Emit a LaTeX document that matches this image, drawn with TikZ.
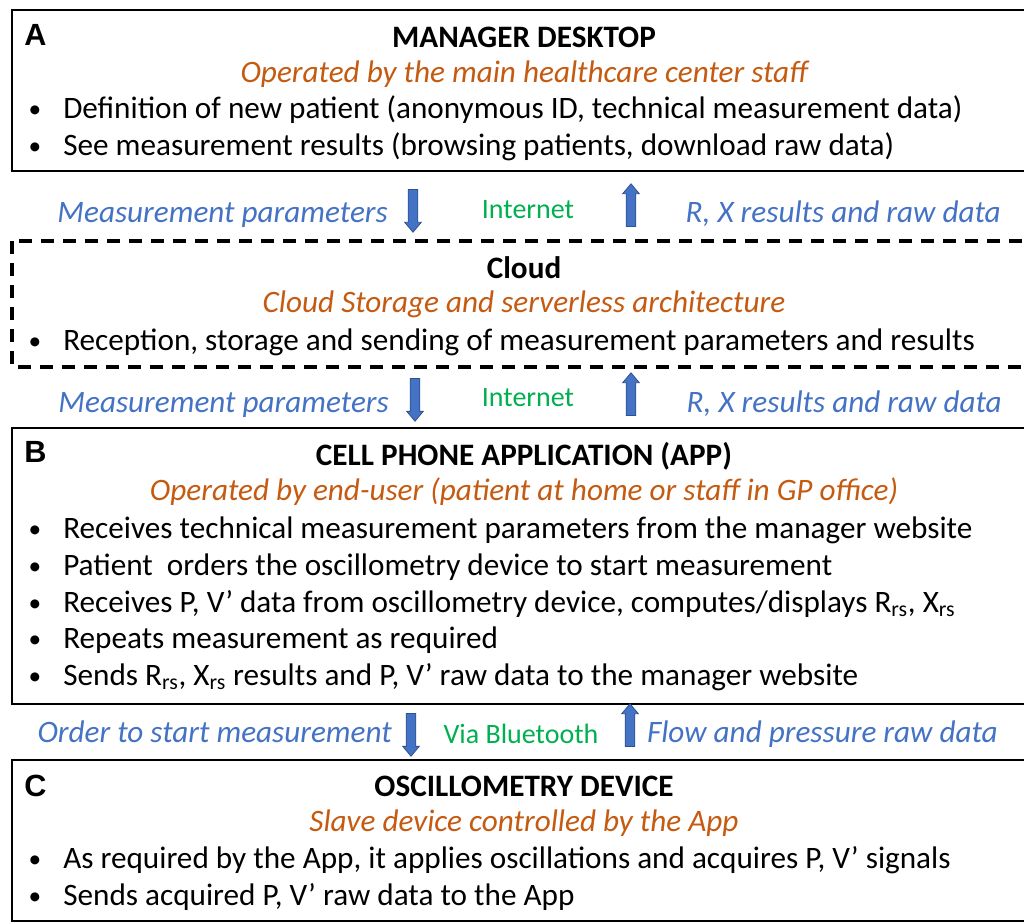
\documentclass[tikz,border=0pt]{standalone}
\usepackage{fontspec}
\setmainfont{Carlito}
\newfontfamily\letterfont{Liberation Sans}
\usetikzlibrary{shapes.arrows}
\definecolor{txblue}{RGB}{68,114,196}
\definecolor{txorange}{RGB}{197,90,17}
\definecolor{txgreen}{RGB}{0,176,80}
\definecolor{arline}{RGB}{47,82,143}
\tikzset{
  panel/.style={draw=black, line width=2.2pt},
  cloudpanel/.style={draw=black, line width=2.5pt, dash pattern=on 9.5pt off 7pt},
  body/.style={font=\fontsize{23.4}{28}\selectfont, inner sep=0pt, anchor=base},
  headtext/.style={body, font=\fontsize{23.4}{28}\selectfont\bfseries},
  subtext/.style={body, font=\fontsize{23.4}{28}\selectfont\itshape, text=txorange},
  linktext/.style={body, font=\fontsize{23.4}{28}\selectfont\itshape, text=txblue, anchor=base east},
  nettext/.style={body, font=\fontsize{21}{25}\selectfont, text=txgreen},
  letter/.style={font=\fontsize{23}{27}\selectfont\letterfont\bfseries, inner sep=0pt, anchor=base west},
  item/.style={body, anchor=base west},
  dot/.style={body, font=\fontsize{19}{23}\selectfont},
  blockarrow/.style={single arrow, draw=arline, fill=txblue, line width=0.6pt, minimum height=32pt,
    inner xsep=0pt, inner ysep=3.3pt, single arrow head extend=2.6pt, single arrow tip angle=80},
  downarrow/.style={blockarrow, rotate=-90},
  uparrow/.style={blockarrow, rotate=90}
}
\begin{document}
\begin{tikzpicture}[x=0.75pt, y=-0.75pt]
\clip (0,0) rectangle (1024,922);
\fill[white] (0,0) rectangle (1024,922);

% Manager desktop
\draw[panel] (12,10) rectangle (1040,171);
\node[letter] (lA) at (24,45) {A};
\node[headtext] (tA) at (524,47) {MANAGER DESKTOP};
\node[subtext] (sA) at (524,82) {Operated by the main healthcare center staff};
\node[dot] at (35,117) {•};
\node[item] (a1) at (63,118) {Definition of new patient (anonymous ID, technical measurement data)};
\node[dot] at (35,154) {•};
\node[item] (a2) at (63,155) {See measurement results (browsing patients, download raw data)};

% Desktop <-> cloud
\node[linktext] (l1) at (388,222) {Measurement parameters};
\node[downarrow] (d1) at (413,208) {};
\node[nettext] (n1) at (528,218) {Internet};
\node[uparrow] (u1) at (631,208) {};
\node[linktext] (r1) at (1001,222) {R, X results and raw data};

% Cloud
\draw[cloudpanel] (12,241) rectangle (1040,367);
\node[headtext] (tC) at (524,278) {Cloud};
\node[subtext] (sC) at (524,312) {Cloud Storage and serverless architecture};
\node[dot] at (35,349) {•};
\node[item] (c1) at (63,350) {Reception, storage and sending of measurement parameters and results};

% Cloud <-> app
\node[linktext] (l2) at (389,412) {Measurement parameters};
\node[downarrow] (d2) at (415,397) {};
\node[nettext] (n2) at (528,406) {Internet};
\node[uparrow] (u2) at (631,397) {};
\node[linktext] (r2) at (1002,412) {R, X results and raw data};

% Cell phone application
\draw[panel] (12,428) rectangle (1040,704);
\node[letter] (lB) at (24,462) {B};
\node[headtext] (tB) at (524,465) {CELL PHONE APPLICATION (APP)};
\node[subtext] (sB) at (524,500) {Operated by end-user (patient at home or staff in GP office)};
\node[dot] at (35,537) {•};
\node[item] (b1) at (63,538) {Receives technical measurement parameters from the manager website};
\node[dot] at (35,574) {•};
\node[item] (b2) at (63,575) {Patient\ \ orders the oscillometry device to start measurement};
\node[dot] at (35,611) {•};
\node[item] (b3) at (63,612) {Receives P, V’ data from oscillometry device, computes/displays R\textsubscript{rs}, X\textsubscript{rs}};
\node[dot] at (35,647) {•};
\node[item] (b4) at (63,648) {Repeats measurement as required};
\node[dot] at (35,684) {•};
\node[item] (b5) at (63,685) {Sends R\textsubscript{rs}, X\textsubscript{rs} results and P, V’ raw data to the manager website};

% App <-> device
\node[linktext] (l3) at (392,742) {Order to start measurement};
\node[downarrow] (d3) at (411,732) {};
\node[nettext] (n3) at (521,743) {Via Bluetooth};
\node[uparrow] (u3) at (630,728) {};
\node[linktext] (r3) at (998,742) {Flow and pressure raw data};

% Oscillometry device
\draw[panel] (12,760) rectangle (1040,921);
\node[letter] (lCC) at (24,796) {C};
\node[headtext] (tD) at (524,796) {OSCILLOMETRY DEVICE};
\node[subtext] (sD) at (524,831) {Slave device controlled by the App};
\node[dot] at (35,867) {•};
\node[item] (e1) at (63,868) {As required by the App, it applies oscillations and acquires P, V’ signals};
\node[dot] at (35,904) {•};
\node[item] (e2) at (63,905) {Sends acquired P, V’ raw data to the App};
\end{tikzpicture}
\end{document}
